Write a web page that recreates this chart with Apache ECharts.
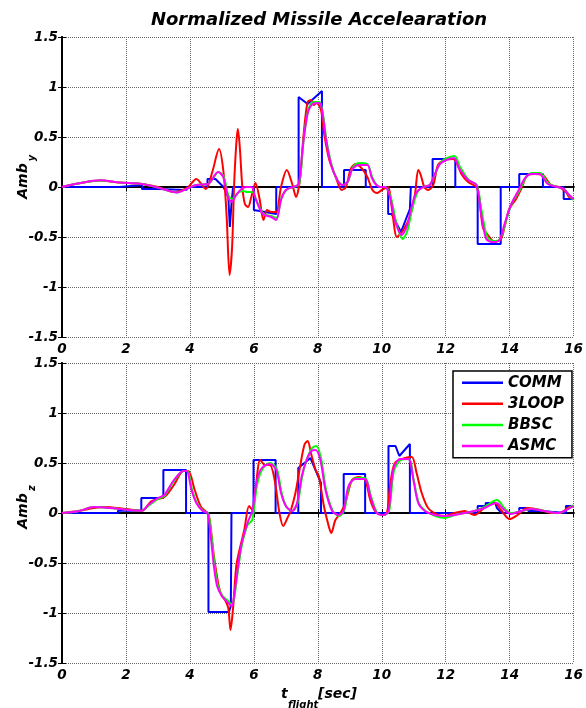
<!DOCTYPE html>
<html>
<head>
<meta charset="utf-8">
<script src="https://cdn.jsdelivr.net/npm/echarts@6/dist/echarts.min.js"></script>
<style>
  html, body { margin: 0; padding: 0; background: #fff; }
  #chart { width: 586px; height: 708px; }
</style>
</head>
<body>
<div id="chart"></div>
<script>
// ---- axis ticks ----
const xTicks = [0, 2, 4, 6, 8, 10, 12, 14, 16];
const yTicks = [-1.5, -1, -0.5, 0, 0.5, 1, 1.5];
const seriesNames = ['COMM', '3LOOP', 'BBSC', 'ASMC'];

// ---- lateral channel (Amb_y): [t, value] ----
const commY = [[0,0],[1.8,0],[1.8,0.02],[2.5,0.02],[2.5,-0.02],[3.0,-0.02],[3.0,-0.03],[3.9,-0.03],[3.9,0.0],[4.55,0.0],[4.55,0.08],[4.8,0.08],[5.05,0.0],[5.2,-0.1],[5.25,-0.4],[5.3,-0.17],[5.35,0],[6.0,0],[6.0,-0.23],[6.7,-0.27],[6.7,0],[7.4,0],[7.4,0.9],[7.68,0.83],[8.13,0.96],[8.13,0],[8.82,0],[8.82,0.17],[9.5,0.17],[9.5,0],[10.2,0],[10.2,-0.27],[10.31,-0.27],[10.6,-0.45],[10.88,-0.22],[10.91,0],[11.59,0],[11.59,0.28],[12.3,0.28],[12.3,0],[13.0,0],[13.0,-0.57],[13.72,-0.57],[13.72,0],[14.3,0],[14.3,0.13],[15.04,0.13],[15.04,0],[15.69,0],[15.69,-0.12],[16,-0.12]];
const loopY = [[0,0],[0.5,0.035],[1.2,0.065],[1.8,0.045],[2.5,0.03],[3.0,0.0],[3.5,-0.05],[3.7,-0.04],[3.95,0.0],[4.2,0.08],[4.5,-0.02],[4.7,0.15],[4.91,0.38],[5.05,0.15],[5.15,-0.3],[5.24,-0.88],[5.32,-0.6],[5.38,0.0],[5.45,0.43],[5.5,0.58],[5.56,0.4],[5.64,0.0],[5.72,-0.17],[5.82,-0.2],[5.92,-0.1],[6.05,0.04],[6.18,-0.12],[6.3,-0.33],[6.41,-0.23],[6.55,-0.25],[6.7,-0.25],[6.85,0.0],[7.03,0.17],[7.2,0.03],[7.32,-0.1],[7.44,0.07],[7.55,0.5],[7.68,0.85],[7.79,0.87],[7.87,0.82],[7.96,0.84],[8.1,0.77],[8.2,0.53],[8.36,0.27],[8.56,0.1],[8.75,-0.03],[8.88,0.0],[9.03,0.18],[9.19,0.23],[9.39,0.18],[9.55,0.1],[9.71,-0.03],[9.86,-0.06],[10.0,-0.03],[10.2,0.0],[10.31,-0.2],[10.47,-0.5],[10.55,-0.48],[10.67,-0.43],[10.88,-0.3],[11.04,-0.07],[11.14,0.17],[11.22,0.12],[11.33,0.0],[11.45,-0.03],[11.61,0.02],[11.76,0.22],[11.97,0.27],[12.23,0.28],[12.33,0.25],[12.49,0.13],[12.7,0.05],[12.96,0.0],[13.06,-0.13],[13.16,-0.4],[13.32,-0.48],[13.53,-0.55],[13.73,-0.52],[13.84,-0.4],[13.99,-0.22],[14.2,-0.12],[14.36,-0.02],[14.56,0.12],[14.77,0.13],[15.03,0.12],[15.29,0.02],[15.55,0.0],[15.76,-0.05],[15.86,-0.1],[16,-0.12]];
const bbscY = [[0,0],[0.5,0.035],[1.2,0.065],[1.8,0.045],[2.45,0.033],[3.05,-0.01],[3.6,-0.055],[3.9,-0.02],[4.2,0.02],[4.57,0.03],[4.9,0.15],[5.06,0.1],[5.2,-0.08],[5.32,-0.12],[5.5,-0.06],[5.65,-0.04],[5.8,-0.05],[5.95,-0.05],[6.1,-0.15],[6.3,-0.27],[6.55,-0.29],[6.7,-0.31],[6.87,-0.1],[7.05,-0.02],[7.25,0.0],[7.42,0.03],[7.55,0.45],[7.7,0.77],[7.86,0.85],[8.05,0.85],[8.15,0.75],[8.28,0.45],[8.45,0.2],[8.63,0.06],[8.8,0.02],[8.95,0.06],[9.1,0.2],[9.3,0.24],[9.55,0.23],[9.7,0.1],[9.82,0.03],[9.95,0.0],[10.1,0.0],[10.28,-0.1],[10.45,-0.35],[10.65,-0.52],[10.8,-0.44],[10.95,-0.22],[11.12,-0.05],[11.3,0.0],[11.5,0.02],[11.68,0.14],[11.85,0.25],[12.05,0.29],[12.28,0.31],[12.45,0.2],[12.72,0.07],[12.97,0.02],[13.13,-0.25],[13.3,-0.5],[13.5,-0.54],[13.7,-0.52],[13.87,-0.36],[14.07,-0.16],[14.28,-0.05],[14.5,0.09],[14.7,0.14],[14.95,0.14],[15.2,0.04],[15.5,0.0],[15.7,-0.02],[15.88,-0.09],[16,-0.13]];
const asmcY = [[0,0],[0.5,0.035],[1.2,0.067],[1.8,0.045],[2.45,0.033],[3.05,-0.01],[3.6,-0.055],[3.9,-0.02],[4.2,0.02],[4.57,0.03],[4.88,0.15],[5.04,0.1],[5.19,-0.1],[5.3,-0.15],[5.45,-0.08],[5.61,-0.02],[5.76,0.0],[5.92,0.0],[6.07,-0.13],[6.28,-0.27],[6.54,-0.3],[6.7,-0.33],[6.85,-0.13],[7.0,-0.03],[7.22,0.0],[7.4,0.03],[7.53,0.4],[7.68,0.73],[7.84,0.83],[8.05,0.84],[8.13,0.77],[8.26,0.47],[8.41,0.23],[8.61,0.07],[8.77,0.02],[8.93,0.05],[9.08,0.18],[9.29,0.22],[9.55,0.22],[9.68,0.1],[9.8,0.03],[9.95,0.0],[10.1,0.0],[10.26,-0.1],[10.41,-0.33],[10.62,-0.48],[10.78,-0.4],[10.93,-0.2],[11.09,-0.05],[11.3,0.0],[11.5,0.02],[11.66,0.13],[11.82,0.23],[12.02,0.27],[12.26,0.29],[12.43,0.18],[12.7,0.07],[12.96,0.02],[13.11,-0.27],[13.27,-0.52],[13.48,-0.55],[13.68,-0.53],[13.84,-0.37],[14.05,-0.17],[14.25,-0.05],[14.46,0.08],[14.67,0.13],[14.93,0.13],[15.19,0.03],[15.5,0.0],[15.7,-0.02],[15.86,-0.08],[16,-0.12]];

// ---- normal channel (Amb_z): [t, value] ----
const commZ = [[0,0],[1.75,0],[1.75,0.023],[2.48,0.023],[2.48,0.15],[3.17,0.15],[3.17,0.43],[3.88,0.43],[3.88,0],[4.58,0],[4.58,-0.99],[4.8,-0.99],[4.85,-0.98],[4.9,-0.99],[5.22,-0.99],[5.28,-0.93],[5.3,-0.93],[5.3,0],[5.99,0],[5.99,0.53],[6.68,0.53],[6.68,0],[7.39,0],[7.39,0.45],[7.77,0.55],[8.1,0.3],[8.1,0],[8.81,0],[8.81,0.39],[9.48,0.39],[9.48,0],[10.21,0],[10.21,0.67],[10.43,0.67],[10.55,0.57],[10.88,0.69],[10.88,0],[13.0,0],[13.0,0.07],[13.25,0.07],[13.25,0.1],[13.55,0.1],[13.6,0.05],[13.75,0.0],[14.3,0.0],[14.3,0.05],[14.58,0.05],[14.58,0.02],[15.0,0.02],[15.0,0.0],[15.76,0.0],[15.76,0.07],[16,0.07]];
const loopZ = [[0,0],[0.5,0.02],[1.0,0.05],[1.3,0.06],[2.0,0.04],[2.5,0.023],[2.8,0.12],[3.2,0.16],[3.5,0.28],[3.8,0.42],[3.95,0.42],[4.15,0.23],[4.35,0.06],[4.55,0.0],[4.62,-0.07],[4.75,-0.43],[4.9,-0.73],[5.0,-0.83],[5.1,-0.87],[5.2,-0.95],[5.27,-1.17],[5.35,-0.95],[5.45,-0.53],[5.55,-0.37],[5.7,-0.17],[5.85,0.07],[5.95,0.03],[6.05,0.23],[6.2,0.53],[6.35,0.48],[6.5,0.48],[6.65,0.33],[6.8,0.0],[6.92,-0.13],[7.05,-0.05],[7.15,0.02],[7.3,0.2],[7.45,0.47],[7.58,0.68],[7.68,0.72],[7.8,0.58],[7.93,0.43],[8.03,0.37],[8.19,0.07],[8.34,-0.13],[8.42,-0.2],[8.55,-0.07],[8.71,0.0],[8.86,0.1],[9.07,0.33],[9.27,0.36],[9.48,0.33],[9.64,0.13],[9.79,0.02],[10.0,-0.02],[10.16,0.0],[10.26,0.27],[10.41,0.5],[10.73,0.55],[10.94,0.56],[11.09,0.4],[11.25,0.2],[11.45,0.05],[11.76,-0.02],[11.97,-0.03],[12.28,0.0],[12.59,0.02],[12.9,-0.02],[13.21,0.05],[13.53,0.1],[13.73,0.03],[14.0,-0.06],[14.25,-0.02],[14.56,0.05],[14.98,0.03],[15.29,0.0],[15.6,0.0],[15.81,0.05],[16,0.07]];
const bbscZ = [[0,0],[0.5,0.017],[1.0,0.06],[1.5,0.05],[2.0,0.033],[2.5,0.023],[2.7,0.07],[3.0,0.14],[3.2,0.17],[3.5,0.32],[3.8,0.42],[3.92,0.42],[4.07,0.23],[4.22,0.1],[4.42,0.02],[4.57,0.0],[4.67,-0.22],[4.77,-0.52],[4.87,-0.72],[5.0,-0.82],[5.2,-0.88],[5.3,-0.91],[5.37,-0.88],[5.47,-0.65],[5.62,-0.33],[5.8,-0.12],[5.95,-0.07],[6.1,0.28],[6.27,0.44],[6.5,0.5],[6.72,0.44],[6.87,0.2],[7.02,0.06],[7.2,0.02],[7.37,0.1],[7.52,0.38],[7.67,0.55],[7.82,0.65],[7.95,0.67],[8.1,0.55],[8.26,0.23],[8.47,0.02],[8.67,-0.03],[8.83,0.03],[8.98,0.27],[9.19,0.35],[9.48,0.35],[9.66,0.17],[9.86,0.0],[10.07,-0.02],[10.23,0.02],[10.38,0.42],[10.6,0.53],[10.85,0.54],[11.0,0.33],[11.16,0.1],[11.37,0.02],[11.68,-0.03],[11.97,-0.05],[12.28,-0.02],[12.59,0.0],[12.9,0.02],[13.21,0.06],[13.6,0.13],[13.86,0.04],[14.06,0.0],[14.38,0.02],[14.7,0.04],[15.1,0.02],[15.5,0.0],[15.72,0.02],[16,0.08]];
const asmcZ = [[0,0],[0.5,0.017],[1.0,0.06],[1.5,0.05],[2.0,0.033],[2.5,0.023],[2.7,0.08],[3.0,0.15],[3.2,0.18],[3.5,0.33],[3.8,0.42],[3.9,0.42],[4.05,0.23],[4.2,0.1],[4.4,0.02],[4.55,0.0],[4.65,-0.23],[4.75,-0.53],[4.85,-0.73],[5.0,-0.83],[5.2,-0.9],[5.3,-0.93],[5.35,-0.9],[5.45,-0.67],[5.6,-0.33],[5.8,-0.1],[5.95,0.02],[6.1,0.33],[6.25,0.45],[6.5,0.49],[6.7,0.43],[6.85,0.2],[7.0,0.07],[7.2,0.02],[7.35,0.1],[7.5,0.37],[7.65,0.53],[7.8,0.62],[7.93,0.63],[8.08,0.53],[8.24,0.23],[8.45,0.02],[8.65,-0.02],[8.81,0.03],[8.96,0.27],[9.17,0.34],[9.48,0.34],[9.64,0.17],[9.84,0.0],[10.05,-0.02],[10.21,0.02],[10.36,0.43],[10.57,0.54],[10.83,0.54],[10.99,0.33],[11.14,0.1],[11.35,0.02],[11.66,-0.02],[11.97,-0.03],[12.28,-0.02],[12.59,0.0],[12.9,0.02],[13.21,0.05],[13.58,0.1],[13.84,0.03],[14.04,-0.01],[14.36,0.02],[14.67,0.04],[15.08,0.02],[15.5,0.0],[15.71,0.02],[16,0.07]];

const FONT = '"DejaVu Sans", "Liberation Sans", sans-serif';
const lineColors = { COMM: '#0000ff', '3LOOP': '#ff0000', BBSC: '#00ff00', ASMC: '#ff00ff' };

const chart = echarts.init(document.getElementById('chart'), null, { renderer: 'canvas' });

const tickLabelStyle = {
  fontFamily: FONT, fontWeight: 'bold', fontStyle: 'italic', fontSize: 13.5, color: '#000'
};
const frameLine = { show: true, lineStyle: { color: '#000', width: 2 } };
const innerTick = { show: true, inside: true, length: 4, lineStyle: { color: '#000', width: 1 } };
const gridDots = { show: true, lineStyle: { color: '#666666', width: 1, type: [1, 1] } };

function xAxisPair(gridIndex) {
  return [
    { type: 'value', gridIndex, position: 'bottom', min: xTicks[0], max: xTicks[xTicks.length - 1],
      interval: xTicks[1] - xTicks[0], axisLine: frameLine, axisTick: innerTick,
      axisLabel: { ...tickLabelStyle, margin: 5, formatter: v => String(v) },
      splitLine: gridDots },
    { type: 'value', gridIndex, position: 'top', min: xTicks[0], max: xTicks[xTicks.length - 1],
      interval: xTicks[1] - xTicks[0], axisLine: frameLine, axisTick: innerTick,
      axisLabel: { show: false }, splitLine: { show: false } }
  ];
}
function yAxisPair(gridIndex) {
  return [
    { type: 'value', gridIndex, position: 'left', min: yTicks[0], max: yTicks[yTicks.length - 1],
      interval: yTicks[1] - yTicks[0], axisLine: frameLine, axisTick: innerTick,
      axisLabel: { ...tickLabelStyle, margin: 4, formatter: v => String(v) },
      splitLine: gridDots },
    { type: 'value', gridIndex, position: 'right', min: yTicks[0], max: yTicks[yTicks.length - 1],
      interval: yTicks[1] - yTicks[0], axisLine: frameLine, axisTick: innerTick,
      axisLabel: { show: false }, splitLine: { show: false } }
  ];
}

function makeSeries(name, data, axisIdx, smooth) {
  return {
    name, type: 'line', data, xAxisIndex: axisIdx, yAxisIndex: axisIdx,
    symbol: 'none', smooth: smooth ? 0.3 : false, clip: true,
    lineStyle: { color: lineColors[name], width: 2 },
    itemStyle: { color: lineColors[name] },
    emphasis: { disabled: true }
  };
}

const labelFont = 'italic bold 14px ' + FONT;
const subFont = 'italic bold 10px ' + FONT;
function txt(x, y, text, font, align, rotation) {
  return {
    type: 'text', x, y, rotation: rotation || 0, z: 100,
    style: { text, font, fill: '#000', align, verticalAlign: 'middle',
             textAlign: align, textVerticalAlign: 'middle' }
  };
}

chart.setOption({
  animation: false,
  backgroundColor: '#ffffff',
  grid: [
    { left: 62, top: 37, width: 514, height: 300, containLabel: false },
    { left: 62, top: 363, width: 514, height: 300, containLabel: false }
  ],
  xAxis: [...xAxisPair(0), ...xAxisPair(1)],
  yAxis: [...yAxisPair(0), ...yAxisPair(1)],
  legend: {
    data: seriesNames,
    orient: 'vertical',
    left: 453, top: 371,
    padding: [3, 8, 3, 9],
    icon: 'rect',
    itemWidth: 41, itemHeight: 2.5, itemGap: 3.6,
    backgroundColor: '#ffffff', borderColor: '#000', borderWidth: 1.5, borderRadius: 0,
    textStyle: { fontFamily: FONT, fontWeight: 'bold', fontStyle: 'italic', fontSize: 15,
                 lineHeight: 17.5, color: '#000' },
    selectedMode: false
  },
  series: [
    makeSeries('COMM', commY, 0, false),
    makeSeries('3LOOP', loopY, 0, true),
    makeSeries('BBSC', bbscY, 0, true),
    makeSeries('ASMC', asmcY, 0, true),
    makeSeries('COMM', commZ, 2, false),
    makeSeries('3LOOP', loopZ, 2, true),
    makeSeries('BBSC', bbscZ, 2, true),
    makeSeries('ASMC', asmcZ, 2, true)
  ],
  graphic: [
    txt(319, 20, 'Normalized Missile Accelearation', 'italic bold 18px ' + FONT, 'center'),
    txt(23, 181, 'Amb', labelFont, 'center', Math.PI / 2),
    txt(32, 158, 'y', subFont, 'center', Math.PI / 2),
    txt(23, 511, 'Amb', labelFont, 'center', Math.PI / 2),
    txt(32, 488, 'z', subFont, 'center', Math.PI / 2),
    txt(281, 694, 't', labelFont, 'left'),
    txt(288, 705, 'flight', subFont, 'left'),
    txt(318, 694, '[sec]', labelFont, 'left')
  ]
});
</script>
</body>
</html>
